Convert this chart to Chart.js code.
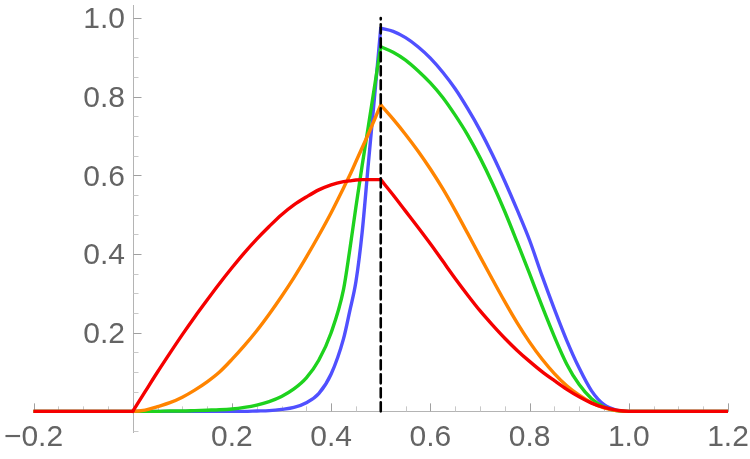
<!DOCTYPE html>
<html>
<head>
<meta charset="utf-8">
<script src="https://cdn.jsdelivr.net/npm/chart.js@4.4.0/dist/chart.umd.min.js"></script>
<style>
  html, body { margin: 0; padding: 0; background: #fff; }
</style>
</head>
<body>
<canvas id="plotChart" width="750" height="459"></canvas>
<script>
// sample positions along x (shared by all curves)
const xValues = [-0.2, 0, 0.025, 0.05, 0.075, 0.1, 0.125, 0.15, 0.175, 0.2, 0.225, 0.25, 0.275, 0.3, 0.325, 0.35,
  0.375, 0.4, 0.425, 0.4375, 0.45, 0.4625, 0.475, 0.4875, 0.5, 0.525, 0.55, 0.575, 0.6, 0.625, 0.65, 0.675,
  0.7, 0.725, 0.75, 0.775, 0.8, 0.825, 0.85, 0.875, 0.9, 0.925, 0.95, 0.975, 1.0, 1.2];

const blueValues = [0, 0, 0, 0, 0, 0, 0, 0, 0, 0, 0, 0.001, 0.002, 0.005, 0.01, 0.022,
  0.045, 0.095, 0.185, 0.255, 0.33, 0.455, 0.63, 0.8, 0.974, 0.966, 0.95, 0.927, 0.898, 0.862, 0.82, 0.77,
  0.715, 0.653, 0.585, 0.512, 0.435, 0.345, 0.26, 0.18, 0.11, 0.052, 0.017, 0.003, 0, 0];

const greenValues = [0, 0, 0, 0, 0.001, 0.001, 0.002, 0.003, 0.004, 0.006, 0.01, 0.016, 0.025, 0.038, 0.057, 0.085,
  0.13, 0.2, 0.31, 0.41, 0.52, 0.625, 0.725, 0.826, 0.927, 0.913, 0.893, 0.866, 0.835, 0.798, 0.753, 0.703,
  0.645, 0.58, 0.508, 0.43, 0.35, 0.268, 0.19, 0.12, 0.068, 0.032, 0.011, 0.002, 0, 0];

const orangeValues = [0, 0, 0.003, 0.012, 0.022, 0.036, 0.054, 0.075, 0.1, 0.132, 0.167, 0.205, 0.247, 0.292, 0.34, 0.392,
  0.447, 0.505, 0.568, 0.6, 0.635, 0.67, 0.705, 0.742, 0.779, 0.743, 0.704, 0.662, 0.616, 0.566, 0.511, 0.453,
  0.394, 0.336, 0.279, 0.225, 0.176, 0.133, 0.096, 0.065, 0.041, 0.022, 0.009, 0.002, 0, 0];

const redValues = [0, 0, 0.05, 0.1, 0.148, 0.195, 0.24, 0.283, 0.325, 0.365, 0.403, 0.438, 0.47, 0.5, 0.525, 0.545,
  0.563, 0.576, 0.584, 0.586, 0.588, 0.589, 0.589, 0.589, 0.589, 0.55, 0.509, 0.468, 0.426, 0.382, 0.338, 0.296,
  0.256, 0.22, 0.186, 0.155, 0.127, 0.101, 0.078, 0.056, 0.037, 0.021, 0.01, 0.003, 0, 0];

// vertical dashed marker
const markerX = [0.5, 0.5];
const markerY = [0, 1.0];

const xTicks = [-0.2, 0.2, 0.4, 0.6, 0.8, 1.0, 1.2];
const xTickLabels = ['\u22120.2', '0.2', '0.4', '0.6', '0.8', '1.0', '1.2'];
const yTicks = [0.2, 0.4, 0.6, 0.8, 1.0];
const yTickLabels = ['0.2', '0.4', '0.6', '0.8', '1.0'];

// points of a curve between two x values (pieces keep the kinks sharp)
function piece(xs, ys, from, to) {
    const pts = [];
    for (let i = 0; i < xs.length; i++) {
        if (xs[i] >= from && xs[i] <= to) {
            pts.push({ x: xs[i], y: ys[i] });
        }
    }
    return pts;
}

function curve(pts, color) {
    return {
        data: pts,
        borderColor: color,
        borderWidth: 3.4,
        cubicInterpolationMode: 'monotone'
    };
}

// y axis line at x = 0 plus mathematica style tick marks: minor every 0.05, major every 0.2
const tickMarks = {
    id: 'tickMarks',
    beforeDatasetsDraw(chart) {
        const ctx = chart.ctx;
        const area = chart.chartArea;
        const xs = chart.scales.x;
        const ys = chart.scales.y;
        const x0 = Math.round(xs.getPixelForValue(0)) + 0.5;
        const y0 = ys.getPixelForValue(0);
        ctx.save();
        ctx.lineWidth = 1;
        ctx.strokeStyle = '#b4b4b4';
        ctx.beginPath();
        ctx.moveTo(x0, area.top);
        ctx.lineTo(x0, area.bottom);
        ctx.stroke();
        for (let i = -4; i <= 24; i++) {
            const major = i % 4 === 0;
            const px = Math.round(xs.getPixelForValue(i * 0.05)) + 0.5;
            ctx.strokeStyle = major ? '#a0a0a0' : '#c8c8c8';
            ctx.beginPath();
            ctx.moveTo(px, y0);
            ctx.lineTo(px, y0 - (major ? 8 : 5));
            ctx.stroke();
        }
        for (let i = -1; i <= 20; i++) {
            if (i === 0) continue;
            const major = i % 4 === 0;
            const py = Math.round(ys.getPixelForValue(i * 0.05)) + 0.5;
            ctx.strokeStyle = major ? '#a0a0a0' : '#c8c8c8';
            ctx.beginPath();
            ctx.moveTo(x0, py);
            ctx.lineTo(x0 + (major ? 8 : 5), py);
            ctx.stroke();
        }
        ctx.restore();
    }
};

// axes sit inside the plot, so they take no room in the layout
function noRoom(s) {
    if (s.isHorizontal()) s.height = 0; else s.width = 0;
    s.paddingLeft = 0;
    s.paddingRight = 0;
    s.paddingTop = 0;
    s.paddingBottom = 0;
}

const labelFont = { family: "'Liberation Sans', Arial, sans-serif", size: 30 };

const ctx = document.getElementById('plotChart').getContext('2d');
const plotChart = new Chart(ctx, {
    type: 'line',
    data: {
        datasets: [
            { data: piece(markerX, markerY, 0, 1), borderColor: '#000000', borderWidth: 2.6, borderDash: [9, 5] },
            curve(piece(xValues, redValues, -0.2, 0), '#f50000'),
            curve(piece(xValues, redValues, 0, 0.5), '#f50000'),
            curve(piece(xValues, redValues, 0.5, 1.2), '#f50000'),
            curve(piece(xValues, orangeValues, -0.2, 0.5), '#ff8400'),
            curve(piece(xValues, orangeValues, 0.5, 1.2), '#ff8400'),
            curve(piece(xValues, greenValues, -0.2, 0.5), '#1ed21e'),
            curve(piece(xValues, greenValues, 0.5, 1.2), '#1ed21e'),
            curve(piece(xValues, blueValues, -0.2, 0.5), '#5050ff'),
            curve(piece(xValues, blueValues, 0.5, 1.2), '#5050ff')
        ]
    },
    options: {
        responsive: false,
        animation: false,
        devicePixelRatio: 1,
        layout: { padding: { left: 33.5, right: 22, top: 5, bottom: 26 } },
        elements: {
            point: { radius: 0 },
            line: { fill: false, borderCapStyle: 'round', borderJoinStyle: 'round' }
        },
        plugins: {
            legend: { display: false },
            tooltip: { enabled: false }
        },
        scales: {
            x: {
                type: 'linear',
                min: -0.2,
                max: 1.2,
                position: { y: 0 },
                afterFit: noRoom,
                afterBuildTicks: s => { s.ticks = xTicks.map(v => ({ value: v })); },
                border: { color: '#b4b4b4', width: 1 },
                grid: { drawOnChartArea: false, drawTicks: false },
                ticks: {
                    autoSkip: false,
                    maxRotation: 0,
                    padding: 8,
                    color: '#646464',
                    font: labelFont,
                    callback: (v, i) => xTickLabels[i]
                }
            },
            y: {
                type: 'linear',
                min: -0.055,
                max: 1.033,
                // labels end a few pixels left of the axis line, which the plugin draws at x = 0
                position: { x: -0.0155 },
                afterFit: noRoom,
                afterBuildTicks: s => { s.ticks = yTicks.map(v => ({ value: v })); },
                border: { display: false },
                grid: { drawOnChartArea: false, drawTicks: false },
                ticks: {
                    autoSkip: false,
                    labelOffset: 2,
                    color: '#646464',
                    font: labelFont,
                    callback: (v, i) => yTickLabels[i]
                }
            }
        }
    },
    plugins: [tickMarks]
});
</script>
</body>
</html>
